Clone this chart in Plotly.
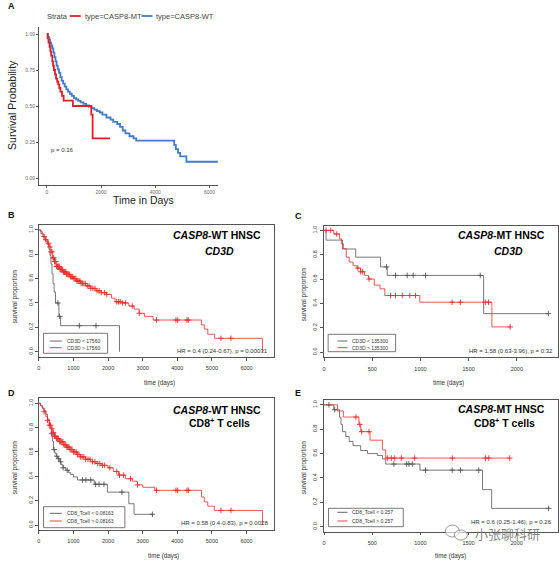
import numpy as np
import plotly.graph_objects as go

W, H = 560, 561

# ---------------- Panel A (ggplot / survminer) ----------------
a_mt_t = [0, 30, 60, 100, 130, 160, 200, 230, 260, 300, 340, 380, 420, 460, 500, 560, 620, 960, 1640, 1690, 2330]
a_mt_s = [1.0, 0.97, 0.94, 0.91, 0.88, 0.85, 0.81, 0.78, 0.75, 0.72, 0.69, 0.67, 0.65, 0.625, 0.60, 0.57, 0.537, 0.50, 0.44, 0.275, 0.275]
a_wt_t = [0, 40, 80, 120, 160, 200, 240, 280, 320, 360, 400, 450, 500, 550, 600, 660, 720, 780, 850, 920, 1000,
          1080, 1160, 1250, 1350, 1450, 1550, 1650, 1750, 1850, 1950, 2050, 2200, 2350, 2450, 2600, 2700, 2800,
          2900, 3050, 3200, 3300, 4700, 4760, 4840, 4920, 5150, 6310]
a_wt_s = [1.0, 0.98, 0.96, 0.94, 0.92, 0.90, 0.87, 0.84, 0.81, 0.78, 0.755, 0.73, 0.70, 0.675, 0.655, 0.635, 0.615,
          0.60, 0.585, 0.57, 0.555, 0.545, 0.535, 0.525, 0.515, 0.505, 0.495, 0.485, 0.475, 0.465, 0.455, 0.44,
          0.42, 0.405, 0.39, 0.375, 0.355, 0.33, 0.31, 0.29, 0.275, 0.26, 0.23, 0.20, 0.175, 0.15, 0.113, 0.113]
a_labels = ["type=CASP8-MT", "type=CASP8-WT"]
a_pval = "p = 0.16"

# ---------------- Panel B: CASP8-WT, CD3D ----------------
b_lo_t = [0, 60, 120, 180, 240, 290, 320, 350, 380, 410, 440, 480, 580, 630, 2330]
b_lo_s = [1.0, 0.97, 0.94, 0.91, 0.88, 0.84, 0.79, 0.72, 0.64, 0.56, 0.49, 0.40, 0.29, 0.214, 0.0]
b_lo_c = [550, 600, 1170, 1650]
b_hi_t = [0, 50, 100, 150, 200, 250, 300, 350, 400, 450, 500, 600, 700, 800, 900, 1000, 1100, 1200, 1350, 1500,
          1650, 1800, 1950, 2100, 2200, 2400, 2600, 2750, 2900, 3050, 3300, 4700, 4780, 4880, 5080, 6460]
b_hi_s = [1.0, 0.985, 0.965, 0.945, 0.92, 0.89, 0.86, 0.82, 0.77, 0.74, 0.70, 0.675, 0.655, 0.635, 0.615, 0.60,
          0.58, 0.56, 0.54, 0.52, 0.50, 0.485, 0.47, 0.44, 0.41, 0.40, 0.375, 0.35, 0.315, 0.29, 0.26, 0.22,
          0.186, 0.143, 0.11, 0.0]
b_hi_c = [150, 200, 280, 320, 350, 380, 410, 430, 450, 470, 490, 510, 530, 550, 570, 590, 610, 630, 650, 670,
          690, 710, 730, 750, 780, 800, 830, 860, 890, 920, 950, 980, 1010, 1040, 1070, 1100, 1130, 1160, 1190,
          1220, 1260, 1300, 1340, 1400, 1450, 1500, 1560, 1620, 1680, 1740, 1800, 1900, 1960, 2250, 2300, 2350,
          2420, 2500, 2700, 2900, 3400, 3960, 4010, 4280, 4320, 5260, 5550]
b_legend = ["CD3D < 17560", "CD3D > 17560"]
b_hr = "HR = 0.4 (0.24-0.67), p = 0.00031"

# ---------------- Panel C: CASP8-MT, CD3D ----------------
c_lo_t = [0, 20, 190, 328, 586, 655, 1655, 2327]
c_lo_s = [1.0, 0.92, 0.847, 0.78, 0.70, 0.63, 0.316, 0.316]
c_lo_c = [648, 741, 862, 924, 1052, 1620, 2327]
c_hi_t = [0, 100, 160, 180, 200, 230, 260, 300, 340, 380, 420, 460, 520, 580, 630, 993, 1741, 1931]
c_hi_s = [1.0, 0.97, 0.93, 0.89, 0.85, 0.78, 0.74, 0.71, 0.69, 0.66, 0.63, 0.60, 0.55, 0.52, 0.465, 0.41, 0.207, 0.207]
c_hi_c = [20, 69, 131, 350, 380, 400, 466, 690, 741, 811, 889, 948, 1328, 1414, 1672, 1706, 1931]
c_legend = ["CD3D < 135300", "CD3D > 135300"]
c_hr = "HR = 1.58 (0.63-3.96), p = 0.32"

# ---------------- Panel D: CASP8-WT, CD8 T cells ----------------
d_lo_t = [0, 50, 100, 150, 200, 250, 300, 330, 360, 390, 420, 460, 500, 540, 600, 640, 700, 780, 860, 920, 1000,
          1115, 1600, 1980, 2600, 2750, 3280]
d_lo_s = [1.0, 0.98, 0.96, 0.94, 0.91, 0.87, 0.84, 0.80, 0.75, 0.69, 0.62, 0.59, 0.565, 0.545, 0.52, 0.495, 0.47,
          0.45, 0.43, 0.415, 0.395, 0.37, 0.335, 0.27, 0.175, 0.088, 0.088]
d_lo_c = [370, 440, 520, 570, 630, 700, 820, 1260, 1360, 1500, 1640, 1740, 1880, 2400, 3280]
d_hi_t = [0, 50, 100, 150, 200, 250, 300, 350, 400, 450, 500, 600, 700, 800, 900, 1000, 1100, 1200, 1350, 1500,
          1650, 1800, 2000, 2150, 2300, 2500, 2700, 2850, 3000, 3350, 4700, 4780, 4880, 5070, 6460]
d_hi_s = [1.0, 0.98, 0.96, 0.93, 0.89, 0.86, 0.82, 0.79, 0.76, 0.73, 0.71, 0.685, 0.66, 0.64, 0.62, 0.60, 0.58,
          0.56, 0.54, 0.52, 0.505, 0.49, 0.47, 0.44, 0.41, 0.38, 0.36, 0.33, 0.31, 0.285, 0.23, 0.19, 0.155, 0.12, 0.0]
d_hi_c = [150, 250, 300, 340, 380, 420, 450, 480, 510, 540, 570, 600, 630, 660, 690, 720, 750, 780, 810, 840, 870,
          900, 930, 960, 1000, 1040, 1080, 1120, 1160, 1200, 1250, 1300, 1350, 1420, 1480, 1550, 1620, 1700, 1760,
          1840, 1900, 2050, 2250, 2330, 2450, 2650, 2850, 3400, 3960, 4010, 4280, 4320, 5260, 5550]
d_legend = ["CD8_Tcell < 0.08163", "CD8_Tcell > 0.08163"]
d_hr = "HR = 0.58 (0.4-0.83), p = 0.0028"

# ---------------- Panel E: CASP8-MT, CD8 T cells ----------------
e_lo_t = [0, 100, 160, 175, 190, 225, 260, 300, 380, 450, 553, 605, 640, 995, 1645, 1740, 2332]
e_lo_s = [1.0, 0.96, 0.90, 0.84, 0.78, 0.74, 0.70, 0.665, 0.625, 0.60, 0.584, 0.556, 0.514, 0.464, 0.304, 0.15, 0.15]
e_lo_c = [50, 110, 725, 857, 881, 916, 1053, 1330, 1416, 1606, 2332]
e_hi_t = [0, 140, 200, 362, 380, 477, 605, 640, 1928]
e_hi_s = [1.0, 0.95, 0.90, 0.84, 0.78, 0.71, 0.63, 0.563, 0.563]
e_hi_c = [330, 370, 390, 466, 657, 698, 733, 802, 940, 1331, 1676, 1710, 1928]
e_legend = ["CD8_Tcell < 0.257", "CD8_Tcell > 0.257"]
e_hr = "HR = 0.6 (0.25-1.46), p = 0.26"

watermark = "小张聊科研"

RED_A = "rgb(228,30,38)"
BLUE_A = "rgb(66,124,200)"
GRAY = "rgb(85,85,85)"
RED = "rgb(236,45,45)"
FONT = "Liberation Sans, Arial, sans-serif"


def fx(px):
    return px / W


def fy(py):
    return 1 - py / H


fig = go.Figure()


def add_km(t, s, color, width, ax, censor=None, msize=4):
    xa, ya = ax
    fig.add_trace(go.Scatter(x=t, y=s, mode="lines", line=dict(color=color, width=width, shape="hv"),
                             xaxis=xa, yaxis=ya, showlegend=False, hoverinfo="skip"))
    if censor:
        idx = np.searchsorted(np.array(t), np.array(censor), side="right") - 1
        cs = np.array(s)[idx]
        fig.add_trace(go.Scatter(x=censor, y=cs, mode="markers",
                                 marker=dict(symbol="cross-thin", size=msize, line=dict(color=color, width=0.9)),
                                 xaxis=xa, yaxis=ya, showlegend=False, hoverinfo="skip"))


# Panel A traces
add_km(a_wt_t, a_wt_s, BLUE_A, 1.8, ("x", "y"))
add_km(a_mt_t, a_mt_s, RED_A, 1.8, ("x", "y"))

# R panels
add_km(b_lo_t, b_lo_s, GRAY, 0.8, ("x2", "y2"), b_lo_c)
add_km(b_hi_t, b_hi_s, RED, 0.8, ("x2", "y2"), b_hi_c)
add_km(c_lo_t, c_lo_s, GRAY, 0.8, ("x3", "y3"), c_lo_c)
add_km(c_hi_t, c_hi_s, RED, 0.8, ("x3", "y3"), c_hi_c)
add_km(d_lo_t, d_lo_s, GRAY, 0.8, ("x4", "y4"), d_lo_c)
add_km(d_hi_t, d_hi_s, RED, 0.8, ("x4", "y4"), d_hi_c)
add_km(e_lo_t, e_lo_s, GRAY, 0.8, ("x5", "y5"), e_lo_c)
add_km(e_hi_t, e_hi_s, RED, 0.8, ("x5", "y5"), e_hi_c)

layout = dict(width=W, height=H, margin=dict(l=0, r=0, t=0, b=0), paper_bgcolor="white",
              plot_bgcolor="white", showlegend=False, font=dict(family=FONT, color="#333"))

# Panel A axes
layout["xaxis"] = dict(domain=[fx(37), fx(217)], range=[-294, 6324], anchor="y",
                       tickvals=[0, 2000, 4000, 6000], showline=True, linecolor="#555", linewidth=0.8,
                       ticks="outside", ticklen=2, tickcolor="#555", tickwidth=0.6,
                       tickfont=dict(size=5, color="#666"), showgrid=False, zeroline=False)
layout["yaxis"] = dict(domain=[fy(185.2), fy(26.8)], range=[-0.05, 1.05], anchor="x",
                       tickvals=[0, 0.25, 0.5, 0.75, 1.0], ticktext=["0.00", "0.25", "0.50", "0.75", "1.00"],
                       showline=True, linecolor="#555", linewidth=0.8, ticks="outside", ticklen=2,
                       tickcolor="#555", tickwidth=0.6, tickfont=dict(size=5, color="#666"),
                       showgrid=False, zeroline=False)

r_panels = {
    2: dict(x=(37, 272.5), y=(225, 356.6), xr=[0, 6780], xt=list(range(0, 7000, 1000))),
    3: dict(x=(322.7, 558.3), y=(225.5, 357), xr=[-6, 2430], xt=[0, 500, 1000, 1500, 2000]),
    4: dict(x=(37, 272.5), y=(398.4, 529.9), xr=[0, 6780], xt=list(range(0, 7000, 1000))),
    5: dict(x=(322.7, 557.5), y=(400, 531.5), xr=[-6, 2424], xt=[0, 500, 1000, 1500, 2000]),
}
yt = [0, 0.2, 0.4, 0.6, 0.8, 1.0]
for k, p in r_panels.items():
    layout[f"xaxis{k}"] = dict(domain=[fx(p["x"][0]), fx(p["x"][1])], range=p["xr"], anchor=f"y{k}",
                               tickvals=p["xt"], showline=True, mirror=True, linecolor="#555", linewidth=0.8,
                               ticks="outside", ticklen=3, tickcolor="#555", tickwidth=0.6,
                               tickfont=dict(size=5.5, color="#333"), showgrid=False, zeroline=False,
                               ticklabelstandoff=3)
    layout[f"yaxis{k}"] = dict(domain=[fy(p["y"][1]), fy(p["y"][0])], range=[-0.04, 1.04], anchor=f"x{k}",
                               tickvals=yt, ticktext=[f"{v:.1f}" for v in yt], tickangle=-90,
                               showline=True, mirror=True, linecolor="#555", linewidth=0.8,
                               ticks="outside", ticklen=3, tickcolor="#555", tickwidth=0.6,
                               tickfont=dict(size=5.5, color="#333"), showgrid=False, zeroline=False)

ann = []
shapes = []


def text(px, py, s, size, color="#333", xanchor="left", bold=False, angle=0, family=FONT):
    if bold:
        s = f"<b>{s}</b>"
    ann.append(dict(x=fx(px), y=fy(py), xref="paper", yref="paper", text=s, showarrow=False,
                    xanchor=xanchor, yanchor="middle", textangle=angle,
                    font=dict(size=size, color=color, family=family)))


# Panel letters
for lt, (lx, ly) in zip("ABCDE", [(4, 6), (4, 215), (292, 216), (4, 393), (292, 393)]):
    text(lx, ly, lt, 9, "#111", bold=True)

# Panel A legend + labels
text(43, 16, "Strata", 7.5, "#444")
shapes.append(dict(type="line", xref="paper", yref="paper", x0=fx(68), x1=fx(79), y0=fy(16), y1=fy(16),
                   line=dict(color=RED_A, width=1.8)))
text(81.5, 16, a_labels[0], 7.5, "#444")
shapes.append(dict(type="line", xref="paper", yref="paper", x0=fx(140), x1=fx(151), y0=fy(16), y1=fy(16),
                   line=dict(color=BLUE_A, width=1.8)))
text(152.5, 16, a_labels[1], 7.5, "#444")
text(10, 105, "Survival Probability", 10.5, "#222", xanchor="center", angle=-90)
text(142, 200, "Time in Days", 10.5, "#222", xanchor="center")
text(47.5, 150, a_pval, 6, "#333")

# R panels text
titles = {
    2: ("<i>CASP8</i>-WT HNSC", "<i>CD3D</i>", 261.7, 235, 218.3, 250.5),
    3: ("<i>CASP8</i>-MT HNSC", "<i>CD3D</i>", 547.3, 235, 508.3, 250.7),
    4: ("<i>CASP8</i>-WT HNSC", "CD8<sup>+</sup> T cells", 261.7, 410, 218.3, 422),
    5: ("<i>CASP8</i>-MT HNSC", "CD8<sup>+</sup> T cells", 547.3, 408.5, 504.3, 422),
}
for k, (t1, t2, x1, y1, x2, y2) in titles.items():
    text(x1, y1, t1, 10.5, "#000", xanchor="right", bold=True)
    text(x2, y2, t2, 10.5, "#000", xanchor="center", bold=True)

# axis labels
for (xl, yl, xt_, yt_) in [(13.3, 297, 158, 382.7), (303.3, 295, 448, 382.7),
                           (13.3, 468, 162, 555.7), (303.3, 468, 450, 555.7)]:
    text(xl, yl, "survival proportion", 6.5, "#333", xanchor="center", angle=-90)
    text(xt_, yt_, "time (days)", 6.3, "#333", xanchor="center")

# legends
legends = [
    (b_legend, (41.7, 106, 333.3, 353.3), (48, 60), (341, 347.7), 63.3),
    (c_legend, (327.3, 395, 334.3, 351.7), (336.7, 346.7), (341, 347.7), 349.3),
    (d_legend, (41.7, 123.3, 506.7, 527.7), (48, 60), (513.3, 521), 63.3),
    (e_legend, (327.7, 402.7, 508.3, 526.7), (336.7, 346.7), (512.3, 521), 349.3),
]
for labels, (bx0, bx1, by0, by1), (lx0, lx1), (ly1, ly2), tx in legends:
    shapes.append(dict(type="rect", xref="paper", yref="paper", x0=fx(bx0), x1=fx(bx1), y0=fy(by1), y1=fy(by0),
                       line=dict(color="#555", width=0.8), fillcolor="white"))
    for lab, col, ly in zip(labels, [GRAY, RED], [ly1, ly2]):
        shapes.append(dict(type="line", xref="paper", yref="paper", x0=fx(lx0), x1=fx(lx1), y0=fy(ly), y1=fy(ly),
                           line=dict(color=col, width=0.9)))
        text(tx, ly, lab, 5, "#333")

# HR texts
for s, (hx, hy) in zip([b_hr, c_hr, d_hr, e_hr], [(268.5, 350.7), (555, 350.7), (268.7, 523.3), (554.3, 522.3)]):
    text(hx, hy, s, 6, "#333", xanchor="right")

# watermark (WeChat-like icon outline + text)
shapes.append(dict(type="circle", xref="paper", yref="paper", x0=fx(445), x1=fx(459), y0=fy(537), y1=fy(525),
                   line=dict(color="rgba(130,130,130,0.8)", width=1), fillcolor="rgba(255,255,255,0.6)"))
shapes.append(dict(type="circle", xref="paper", yref="paper", x0=fx(454), x1=fx(467), y0=fy(540), y1=fy(530),
                   line=dict(color="rgba(130,130,130,0.8)", width=1), fillcolor="rgba(255,255,255,0.6)"))
text(507, 533, watermark, 13, "rgba(110,110,110,0.85)", xanchor="center",
     family="Noto Sans CJK SC, sans-serif")

layout["annotations"] = ann
layout["shapes"] = shapes
fig.update_layout(**layout)
fig.write_html("out.html", config={"displayModeBar": False},
               post_script="document.body.style.margin='0';document.body.style.padding='0';")
